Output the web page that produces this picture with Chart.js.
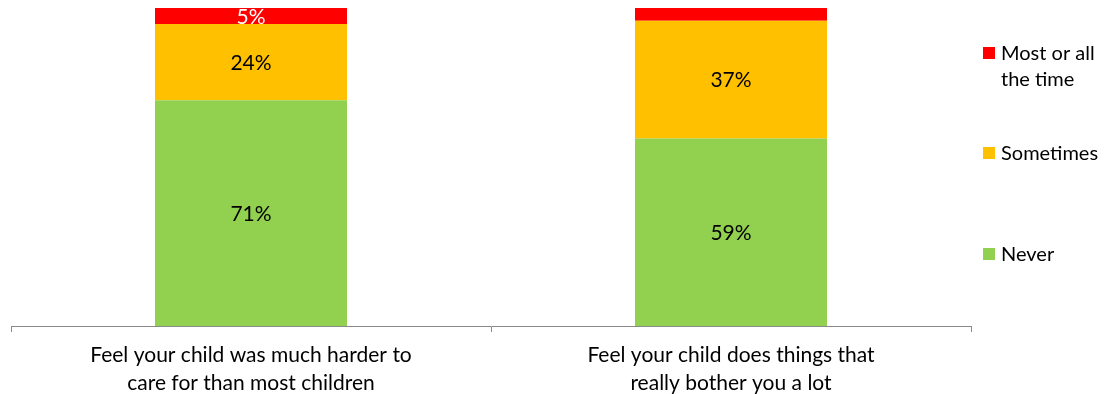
<!DOCTYPE html>
<html>
<head>
<meta charset="utf-8">
<script src="https://cdn.jsdelivr.net/npm/chart.js@4"></script>
<style>
html,body{margin:0;padding:0;background:#fff;}
#wrap{width:1112px;height:394px;position:relative;}
</style>
</head>
<body>
<div id="wrap"><canvas id="c" width="1112" height="394"></canvas></div>
<script>
const categories = [
  ["Feel your child was much harder to", "care for than most children"],
  ["Feel your child does things that", "really bother you a lot"]
];
const seriesNames = ["Never", "Sometimes", "Most or all the time"];
const legendLines = [["Never"], ["Sometimes"], ["Most or all", "the time"]];
const neverValues = [71, 59];
const sometimesValues = [24, 37];
const mostValues = [5, 4];
const showLabel = [[true, true], [true, true], [true, false]];
const colors = ["#92D050", "#FFC000", "#FF0000"];
const labelColors = ["#000000", "#000000", "#FFFFFF"];
const FONT = "Lato";

const segLabels = {
  id: 'segLabels',
  afterDatasetsDraw(chart) {
    const ctx = chart.ctx;
    ctx.save();
    ctx.font = `21px ${FONT}`;
    ctx.textAlign = 'center';
    ctx.textBaseline = 'middle';
    chart.data.datasets.forEach((ds, di) => {
      const meta = chart.getDatasetMeta(di);
      meta.data.forEach((bar, i) => {
        if (!showLabel[di][i]) return;
        const p = bar.getProps(['x', 'y', 'base'], true);
        ctx.fillStyle = labelColors[di];
        ctx.fillText(ds.data[i] + '%', p.x, (p.y + p.base) / 2 + 1);
      });
    });
    ctx.restore();
  }
};

const customLegend = {
  id: 'customLegend',
  afterDraw(chart) {
    const ctx = chart.ctx;
    ctx.save();
    ctx.font = `20px ${FONT}`;
    ctx.textAlign = 'left';
    ctx.textBaseline = 'alphabetic';
    const tops = [248, 147, 47];
    chart.data.datasets.forEach((ds, di) => {
      const top = tops[di];
      ctx.fillStyle = ds.backgroundColor;
      ctx.fillRect(983, top, 12, 12);
      ctx.fillStyle = '#000';
      legendLines[di].forEach((ln, k) => {
        ctx.fillText(ln, 1001, top + 13 + k * 26);
      });
    });
    ctx.restore();
  }
};

new Chart(document.getElementById('c'), {
  type: 'bar',
  data: {
    labels: categories,
    datasets: [
      { label: seriesNames[0], data: neverValues, backgroundColor: colors[0] },
      { label: seriesNames[1], data: sometimesValues, backgroundColor: colors[1] },
      { label: seriesNames[2], data: mostValues, backgroundColor: colors[2] }
    ]
  },
  options: {
    responsive: false,
    animation: false,
    layout: { padding: { left: 11, right: 141, top: 8, bottom: 0 } },
    datasets: { bar: { categoryPercentage: 1, barPercentage: 0.4 } },
    plugins: { legend: { display: false }, tooltip: { enabled: false } },
    scales: {
      x: {
        stacked: true,
        grid: { offset: true, drawOnChartArea: false, drawTicks: true, tickLength: 6, color: '#898989' },
        border: { color: '#898989', width: 1 },
        ticks: { color: '#000', font: { family: FONT, size: 21, lineHeight: 1.33 }, padding: 9, maxRotation: 0, autoSkip: false },
        afterFit(scale) { scale.height = 68; }
      },
      y: {
        stacked: true,
        display: false,
        min: 0,
        max: 100
      }
    }
  },
  plugins: [segLabels, customLegend]
});
</script>
</body>
</html>
